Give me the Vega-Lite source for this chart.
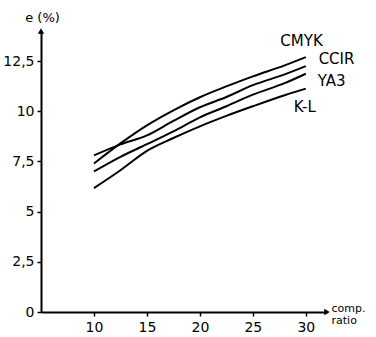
{
  "$schema": "https://vega.github.io/schema/vega-lite/v6.json",
  "width": 286,
  "height": 281,
  "autosize": "none",
  "padding": {"left": 41, "top": 31, "right": 49, "bottom": 25},
  "background": "white",
  "config": {
    "view": {"stroke": null},
    "font": "DejaVu Sans",
    "axis": {"grid": false, "domainColor": "black", "domainWidth": 2, "tickColor": "black", "tickWidth": 1.5, "labelColor": "black", "labelFontSize": 13, "titleColor": "black", "titleFontWeight": "normal", "titleFontSize": 12}
  },
  "datasets": {
    "curves": [
      {"series": "CMYK", "x": 10, "y": 7.4},
      {"series": "CMYK", "x": 12.5, "y": 8.4},
      {"series": "CMYK", "x": 15, "y": 9.3},
      {"series": "CMYK", "x": 17.5, "y": 10.05},
      {"series": "CMYK", "x": 20, "y": 10.7},
      {"series": "CMYK", "x": 22.5, "y": 11.24},
      {"series": "CMYK", "x": 25, "y": 11.74},
      {"series": "CMYK", "x": 28, "y": 12.29},
      {"series": "CMYK", "x": 30, "y": 12.7},
      {"series": "CCIR", "x": 10, "y": 7.8},
      {"series": "CCIR", "x": 12.5, "y": 8.35},
      {"series": "CCIR", "x": 15, "y": 8.8},
      {"series": "CCIR", "x": 17.5, "y": 9.52},
      {"series": "CCIR", "x": 20, "y": 10.2},
      {"series": "CCIR", "x": 22.5, "y": 10.71},
      {"series": "CCIR", "x": 25, "y": 11.3},
      {"series": "CCIR", "x": 28, "y": 11.84},
      {"series": "CCIR", "x": 30, "y": 12.25},
      {"series": "YA3", "x": 10, "y": 7.0},
      {"series": "YA3", "x": 12.5, "y": 7.73},
      {"series": "YA3", "x": 15, "y": 8.36},
      {"series": "YA3", "x": 17.5, "y": 9.0},
      {"series": "YA3", "x": 20, "y": 9.7},
      {"series": "YA3", "x": 22.5, "y": 10.25},
      {"series": "YA3", "x": 25, "y": 10.83},
      {"series": "YA3", "x": 28, "y": 11.4},
      {"series": "YA3", "x": 30, "y": 11.87},
      {"series": "K-L", "x": 10, "y": 6.17},
      {"series": "K-L", "x": 12.5, "y": 7.06},
      {"series": "K-L", "x": 15, "y": 8.03},
      {"series": "K-L", "x": 17.5, "y": 8.67},
      {"series": "K-L", "x": 20, "y": 9.25},
      {"series": "K-L", "x": 22.5, "y": 9.77},
      {"series": "K-L", "x": 25, "y": 10.25},
      {"series": "K-L", "x": 28, "y": 10.8},
      {"series": "K-L", "x": 30, "y": 11.13}
    ],
    "labels": [
      {"label": "CMYK", "x": 29.6, "y": 13.5},
      {"label": "CCIR", "x": 32.9, "y": 12.6},
      {"label": "YA3", "x": 32.45, "y": 11.5},
      {"label": "K-L", "x": 29.9, "y": 10.2}
    ],
    "arrows": [
      {"x": 5, "y": 14, "shape": "triangle-up"},
      {"x": 32, "y": 0, "shape": "triangle-right"}
    ]
  },
  "layer": [
    {
      "data": {"name": "curves"},
      "mark": {"type": "line", "color": "black", "strokeWidth": 2, "interpolate": "monotone", "clip": false},
      "encoding": {
        "x": {
          "field": "x", "type": "quantitative",
          "scale": {"domain": [5, 32], "nice": false, "zero": false},
          "axis": {"values": [10, 15, 20, 25, 30], "tickSize": 4, "labelPadding": 4, "labelFontSize": 14, "title": ["comp.", "ratio"], "titleAngle": 0, "titleAlign": "left", "titleBaseline": "top", "titleX": 290, "titleY": -10, "titleFontSize": 11, "titleLineHeight": 12}
        },
        "y": {
          "field": "y", "type": "quantitative",
          "scale": {"domain": [0, 14], "nice": false},
          "axis": {"values": [0, 2.5, 5, 7.5, 10, 12.5], "format": ".1~f", "labelExpr": "replace(datum.label, '.', ',')", "tickSize": 4, "labelPadding": 3, "labelFontSize": 14, "title": "e (%)", "titleAngle": 0, "titleAlign": "center", "titleBaseline": "middle", "titleX": 1, "titleY": -14, "titleFontSize": 13}
        },
        "detail": {"field": "series"}
      }
    },
    {
      "data": {"name": "labels"},
      "mark": {"type": "text", "fontSize": 15, "color": "black", "clip": false},
      "encoding": {
        "x": {"field": "x", "type": "quantitative"},
        "y": {"field": "y", "type": "quantitative"},
        "text": {"field": "label"}
      }
    },
    {
      "data": {"name": "arrows"},
      "mark": {"type": "point", "filled": true, "color": "black", "size": 40, "opacity": 1, "clip": false},
      "encoding": {
        "x": {"field": "x", "type": "quantitative"},
        "y": {"field": "y", "type": "quantitative"},
        "shape": {"field": "shape", "type": "nominal", "scale": null, "legend": null}
      }
    }
  ]
}
